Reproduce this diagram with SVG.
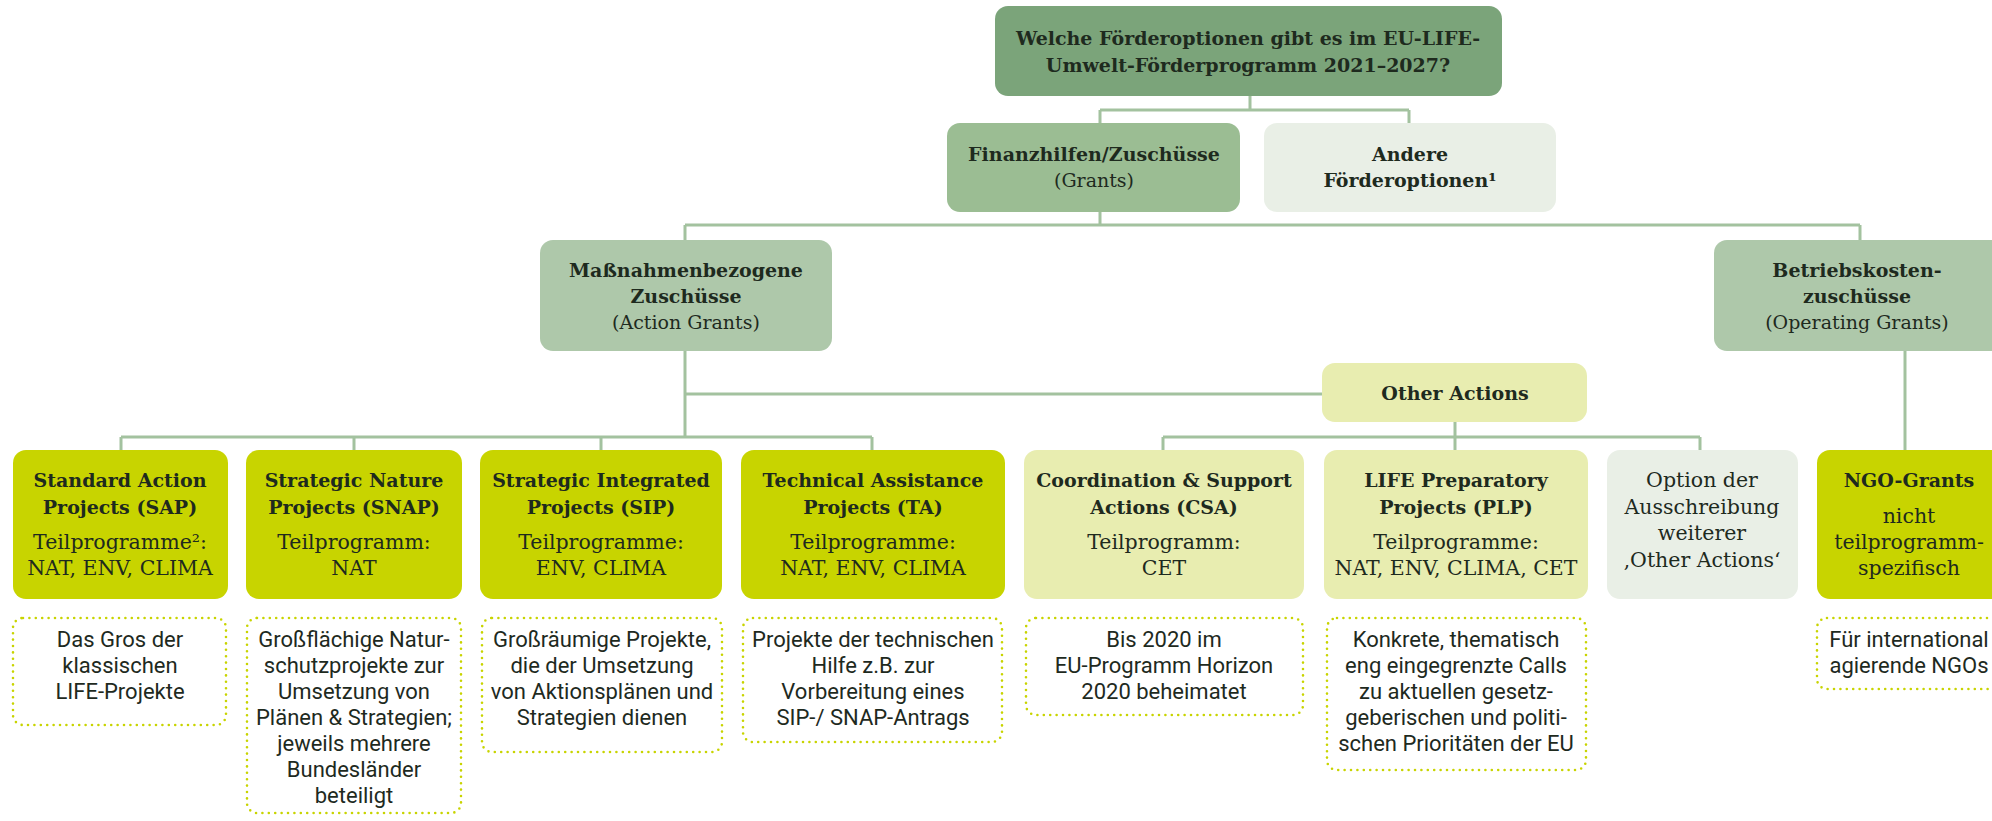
<svg xmlns="http://www.w3.org/2000/svg" width="1992" height="821" viewBox="0 0 1992 821">
<style>
.bg{fill:#ffffff}
.c{fill:none;stroke:#a3c29f;stroke-width:3}
.dk{fill:#7ba47a}
.md{fill:#9bbd93}
.lt{fill:#aec8aa}
.gr{fill:#e9efe6}
.yg{fill:#c8d400}
.ly{fill:#e8edb0}
.dot{fill:none;stroke:#c8d400;stroke-width:2.6;stroke-dasharray:0 6.4;stroke-linecap:round}
text{fill:#1e2a1e;text-anchor:middle}
.b{font-family:"DejaVu Serif","Liberation Serif",serif;font-size:19px;font-weight:bold}
.r{font-family:"DejaVu Serif","Liberation Serif",serif;font-size:19px}
.r2{font-family:"DejaVu Serif","Liberation Serif",serif;font-size:20.5px}
.s{font-family:Roboto,"Liberation Sans",sans-serif;font-size:22px}
</style>
<rect class="bg" x="0" y="0" width="1992" height="821"/>

<g id="connectors">
<path class="c" d="M1250 96V110M1100 110H1409M1100 110V123M1409 110V123"/>
<path class="c" d="M1100 212V225M685 225H1860M685 225V240M1860 225V240"/>
<path class="c" d="M685 351V437M685 394H1322M121 437H872M121 437V450M354 437V450M601 437V450M872 437V450"/>
<path class="c" d="M1455 422V450M1163 437H1700M1163 437V450M1700 437V450"/>
<path class="c" d="M1905 351V450"/>
</g>

<g id="top">
<rect class="dk" x="995" y="6" width="507" height="90" rx="13"/>
<text class="b" x="1248" y="45">Welche Förderoptionen gibt es im EU-LIFE-</text>
<text class="b" x="1248" y="72">Umwelt-Förderprogramm 2021–2027?</text>
</g>

<g id="grants">
<rect class="md" x="947" y="123" width="293" height="89" rx="13"/>
<text class="b" x="1094" y="161">Finanzhilfen/Zuschüsse</text>
<text class="r" x="1094" y="187">(Grants)</text>
</g>

<g id="andere">
<rect class="gr" x="1264" y="123" width="292" height="89" rx="13"/>
<text class="b" x="1410" y="161">Andere</text>
<text class="b" x="1410" y="187">Förderoptionen¹</text>
</g>

<g id="action-grants">
<rect class="lt" x="540" y="240" width="292" height="111" rx="13"/>
<text class="b" x="686" y="277">Maßnahmenbezogene</text>
<text class="b" x="686" y="303">Zuschüsse</text>
<text class="r" x="686" y="329">(Action Grants)</text>
</g>

<g id="operating-grants">
<rect class="lt" x="1714" y="240" width="300" height="111" rx="13"/>
<text class="b" x="1857" y="277">Betriebskosten-</text>
<text class="b" x="1857" y="303">zuschüsse</text>
<text class="r" x="1857" y="329">(Operating Grants)</text>
</g>

<g id="other-actions">
<rect class="ly" x="1322" y="363" width="265" height="59" rx="13"/>
<text class="b" x="1455" y="400">Other Actions</text>
</g>

<g id="sap">
<rect class="yg" x="13" y="450" width="215" height="149" rx="13"/>
<text class="b" x="120" y="487">Standard Action</text>
<text class="b" x="120" y="514">Projects (SAP)</text>
<text class="r2" x="120" y="549">Teilprogramme²:</text>
<text class="r2" x="120" y="575">NAT, ENV, CLIMA</text>
<rect class="dot" x="13" y="618" width="213" height="107" rx="10"/>
<text class="s" x="120" y="647">Das Gros der</text>
<text class="s" x="120" y="673">klassischen</text>
<text class="s" x="120" y="699">LIFE-Projekte</text>
</g>

<g id="snap">
<rect class="yg" x="246" y="450" width="216" height="149" rx="13"/>
<text class="b" x="354" y="487">Strategic Nature</text>
<text class="b" x="354" y="514">Projects (SNAP)</text>
<text class="r2" x="354" y="549">Teilprogramm:</text>
<text class="r2" x="354" y="575">NAT</text>
<rect class="dot" x="247" y="618" width="214" height="195" rx="10"/>
<text class="s" x="354" y="647">Großflächige Natur-</text>
<text class="s" x="354" y="673">schutzprojekte zur</text>
<text class="s" x="354" y="699">Umsetzung von</text>
<text class="s" x="354" y="725">Plänen &amp; Strategien;</text>
<text class="s" x="354" y="751">jeweils mehrere</text>
<text class="s" x="354" y="777">Bundesländer</text>
<text class="s" x="354" y="803">beteiligt</text>
</g>

<g id="sip">
<rect class="yg" x="480" y="450" width="242" height="149" rx="13"/>
<text class="b" x="601" y="487">Strategic Integrated</text>
<text class="b" x="601" y="514">Projects (SIP)</text>
<text class="r2" x="601" y="549">Teilprogramme:</text>
<text class="r2" x="601" y="575">ENV, CLIMA</text>
<rect class="dot" x="482" y="618" width="240" height="134" rx="10"/>
<text class="s" x="602" y="647">Großräumige Projekte,</text>
<text class="s" x="602" y="673">die der Umsetzung</text>
<text class="s" x="602" y="699">von Aktionsplänen und</text>
<text class="s" x="602" y="725">Strategien dienen</text>
</g>

<g id="ta">
<rect class="yg" x="741" y="450" width="264" height="149" rx="13"/>
<text class="b" x="873" y="487">Technical Assistance</text>
<text class="b" x="873" y="514">Projects (TA)</text>
<text class="r2" x="873" y="549">Teilprogramme:</text>
<text class="r2" x="873" y="575">NAT, ENV, CLIMA</text>
<rect class="dot" x="743" y="618" width="259" height="124" rx="10"/>
<text class="s" x="873" y="647">Projekte der technischen</text>
<text class="s" x="873" y="673">Hilfe z.B. zur</text>
<text class="s" x="873" y="699">Vorbereitung eines</text>
<text class="s" x="873" y="725">SIP-/ SNAP-Antrags</text>
</g>

<g id="csa">
<rect class="ly" x="1024" y="450" width="280" height="149" rx="13"/>
<text class="b" x="1164" y="487">Coordination &amp; Support</text>
<text class="b" x="1164" y="514">Actions (CSA)</text>
<text class="r2" x="1164" y="549">Teilprogramm:</text>
<text class="r2" x="1164" y="575">CET</text>
<rect class="dot" x="1026" y="618" width="277" height="97" rx="10"/>
<text class="s" x="1164" y="647">Bis 2020 im</text>
<text class="s" x="1164" y="673">EU-Programm Horizon</text>
<text class="s" x="1164" y="699">2020 beheimatet</text>
</g>

<g id="plp">
<rect class="ly" x="1324" y="450" width="264" height="149" rx="13"/>
<text class="b" x="1456" y="487">LIFE Preparatory</text>
<text class="b" x="1456" y="514">Projects (PLP)</text>
<text class="r2" x="1456" y="549">Teilprogramme:</text>
<text class="r2" x="1456" y="575">NAT, ENV, CLIMA, CET</text>
<rect class="dot" x="1327" y="618" width="259" height="152" rx="10"/>
<text class="s" x="1456" y="647">Konkrete, thematisch</text>
<text class="s" x="1456" y="673">eng eingegrenzte Calls</text>
<text class="s" x="1456" y="699">zu aktuellen gesetz-</text>
<text class="s" x="1456" y="725">geberischen und politi-</text>
<text class="s" x="1456" y="751">schen Prioritäten der EU</text>
</g>

<g id="option">
<rect class="gr" x="1607" y="450" width="191" height="149" rx="13"/>
<text class="r2" x="1702" y="487">Option der</text>
<text class="r2" x="1702" y="514">Ausschreibung</text>
<text class="r2" x="1702" y="540">weiterer</text>
<text class="r2" x="1702" y="567">‚Other Actions‘</text>
</g>

<g id="ngo">
<rect class="yg" x="1817" y="450" width="200" height="149" rx="13"/>
<text class="b" x="1909" y="487">NGO-Grants</text>
<text class="r2" x="1909" y="523">nicht</text>
<text class="r2" x="1909" y="549">teilprogramm-</text>
<text class="r2" x="1909" y="575">spezifisch</text>
<rect class="dot" x="1817" y="618" width="200" height="71" rx="10"/>
<text class="s" x="1909" y="647">Für international</text>
<text class="s" x="1909" y="673">agierende NGOs</text>
</g>
</svg>
